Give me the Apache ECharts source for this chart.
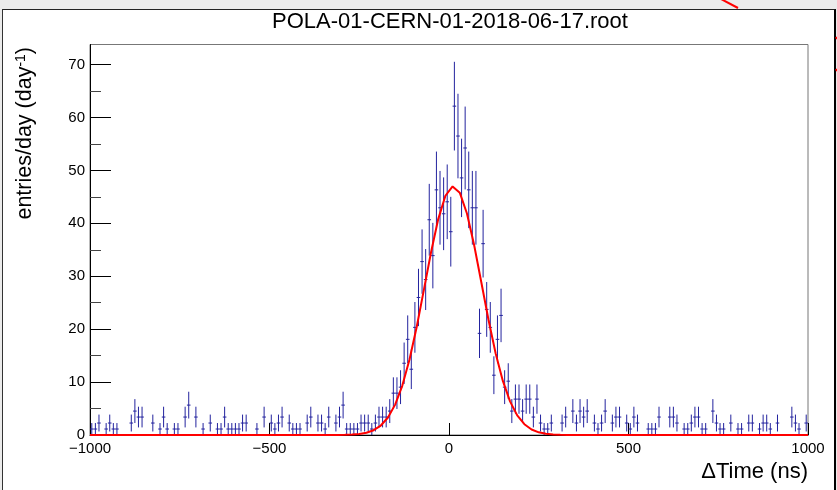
<!DOCTYPE html>
<html><head><meta charset="utf-8">
<script src="https://cdn.jsdelivr.net/npm/echarts@6/dist/echarts.min.js"></script>
<style>
html,body{margin:0;padding:0;background:#ebebeb;overflow:hidden;}
#pad{position:absolute;left:2px;top:9px;width:834px;height:490px;background:#fff;border-left:1px solid #333;border-top:1px solid #222;border-right:2px solid #000;box-sizing:border-box;}
#chart{position:absolute;left:0;top:0;width:837px;height:490px;}
</style></head><body>
<div id="pad"></div><div id="chart"></div>
<script>
// ---- text ----
const chartTitle = 'POLA-01-CERN-01-2018-06-17.root';
const xAxisTitle = '\u0394Time (ns)';
const yAxisTitle = 'entries/day (day';
const yAxisTitleSup = '-1';

// ---- histogram definition (200 bins of 10 ns from -1000 to 1000) ----
const xMin = -1000, xMax = 1000, binWidth = 10;
const entriesPerDay = [
  1.13,1.13,2.26,0,1.13,2.26,1.13,1.13,0,0,
  0,2.26,4.52,3.39,3.39,0,0,2.26,0,1.13,
  3.39,1.13,0,1.13,1.13,0,3.39,5.65,0,3.39,
  0,1.13,0,2.26,0,1.13,1.13,3.39,1.13,1.13,
  1.13,1.13,2.26,2.26,0,0,1.13,0,3.39,0,
  2.26,1.13,2.26,3.39,0,2.26,1.13,1.13,1.13,0,
  2.26,3.39,0,2.26,2.26,1.13,3.39,0,2.26,3.39,
  5.65,1.13,1.13,1.13,1.13,2.26,2.26,2.26,1.13,2.26,
  3.39,3.39,3.39,4.52,7.91,7.91,9.04,13.56,18.08,12.43,
  20.34,25.99,32.77,29.38,40.68,33.9,46.33,42.94,41.81,44.07,
  38.42,62.15,56.5,48.59,54.24,46.33,42.94,42.94,19.21,36.16,
  23.73,20.34,11.3,18.08,22.6,9.04,10.17,4.52,6.78,6.78,
  4.52,6.78,6.78,3.39,6.78,2.26,1.13,1.13,2.26,0,
  0,2.26,3.39,0,4.52,2.26,4.52,3.39,4.52,0,
  2.26,1.13,2.26,4.52,0,2.26,3.39,3.39,0,2.26,
  1.13,3.39,2.26,0,0,1.13,1.13,1.13,3.39,0,
  0,3.39,3.39,2.26,0,1.13,1.13,2.26,3.39,3.39,
  1.13,1.13,0,4.52,2.26,1.13,1.13,0,2.26,0,
  1.13,1.13,0,2.26,2.26,0,1.13,2.26,2.26,1.13,
  0,2.26,0,0,0,3.39,2.26,1.13,0,2.26
];
const entriesPerDayPerCount = 1.13; // one recorded count, in entries/day (Poisson errors)

// ---- Gaussian fit parameters ----
const fitConstant = 47, fitMean = 12, fitSigma = 79;
const fitSampleX = [-1000];
for (let x = -990; x <= 990; x += 20) fitSampleX.push(x);
fitSampleX.push(1000);

// ---- ticks ----
const yMax = 73.8;
const yMajorTicks = [0,10,20,30,40,50,60,70];
const yMinorTicks = [5,15,25,35,45,55,65];
const xMajorTicks = [-1000,-500,0,500,1000];

// ---- build series data ----
const histData = [];
entriesPerDay.forEach((v, i) => {
  if (v > 0) {
    const x = xMin + (i + 0.5) * binWidth;
    histData.push([x, v, Math.sqrt(v * entriesPerDayPerCount)]);
  }
});
const fitData = fitSampleX.map(x => [x, fitConstant * Math.exp(-0.5 * Math.pow((x - fitMean) / fitSigma, 2))]);

const FONT = 'Liberation Sans, Arial, Helvetica, sans-serif';
const barColor = '#23239e';

const chart = echarts.init(document.getElementById('chart'), null, {renderer: 'canvas'});
chart.setOption({
  backgroundColor: 'transparent',
  animation: false,
  grid: {left: 90, right: 29, top: 44.5, bottom: 55, show: true, borderColor: '#777', borderWidth: 1, backgroundColor: 'transparent'},
  xAxis: {
    type: 'value', min: xMin, max: xMax, interval: 500,
    axisLine: {show: true, onZero: false, lineStyle: {color: '#000', width: 1}},
    axisTick: {show: true, inside: true, length: 12, lineStyle: {color: '#000'}, customValues: xMajorTicks},
    axisLabel: {show: true, customValues: xMajorTicks, margin: 6, fontSize: 15, fontFamily: FONT, color: '#000',
      formatter: v => (v < 0 ? '\u2212' + Math.abs(v) : String(v))},
    splitLine: {show: false}
  },
  yAxis: [{
    type: 'value', min: 0, max: yMax, position: 'left',
    axisLine: {show: true, onZero: false, lineStyle: {color: '#000', width: 1}},
    axisTick: {show: true, inside: true, length: 21, lineStyle: {color: '#000'}, customValues: yMajorTicks},
    axisLabel: {show: true, customValues: yMajorTicks, margin: 5, fontSize: 15, fontFamily: FONT, color: '#000'},
    splitLine: {show: false}
  }, {
    type: 'value', min: 0, max: yMax, position: 'left',
    axisLine: {show: false, onZero: false},
    axisTick: {show: true, inside: true, length: 11, lineStyle: {color: '#444'}, customValues: yMinorTicks},
    axisLabel: {show: false},
    splitLine: {show: false}
  }],
  series: [{
    type: 'custom',
    data: histData,
    clip: true,
    z: 2,
    renderItem: function (params, api) {
      const x = api.value(0), y = api.value(1), e = api.value(2);
      const c = api.coord([x, y]);
      const t = api.coord([x, y + e]);
      const b = api.coord([x, Math.max(0, y - e)]);
      const l = api.coord([x - binWidth / 2, y]);
      const r = api.coord([x + binWidth / 2, y]);
      return {type: 'group', children: [
        {type: 'line', shape: {x1: c[0], y1: t[1], x2: c[0], y2: b[1]}, style: {stroke: barColor, lineWidth: 1}},
        {type: 'line', shape: {x1: l[0], y1: c[1], x2: r[0], y2: c[1]}, style: {stroke: barColor, lineWidth: 1}}
      ]};
    }
  }, {
    type: 'line',
    data: fitData,
    showSymbol: false,
    symbol: 'none',
    smooth: false,
    z: 3,
    lineStyle: {color: '#ff0000', width: 2}
  }],
  graphic: [
    {type: 'text', x: 450, y: 22, style: {text: chartTitle, fontSize: 22, fontFamily: FONT, fill: '#000', align: 'center', verticalAlign: 'middle'}},
    {type: 'text', x: 808, y: 472, style: {text: xAxisTitle, fontSize: 22, fontFamily: FONT, fill: '#000', align: 'right', verticalAlign: 'middle'}},
    {type: 'text', x: 25, y: 47, rotation: Math.PI / 2, style: {
      text: '{a|' + yAxisTitle + '}{s|' + yAxisTitleSup + '}{a|)}',
      rich: {
        a: {fontSize: 21.5, fontFamily: FONT, fill: '#000'},
        s: {fontSize: 14, fontFamily: FONT, fill: '#000', verticalAlign: 'top', padding: [0, 0, 8, 0]}
      },
      align: 'right', verticalAlign: 'middle'}},
    {type: 'line', shape: {x1: 721, y1: -1, x2: 738, y2: 8}, style: {stroke: '#ff0000', lineWidth: 2}},
    {type: 'line', shape: {x1: 836, y1: 37, x2: 837, y2: 39}, style: {stroke: '#ff0000', lineWidth: 2}},
    {type: 'line', shape: {x1: 836, y1: 69, x2: 837, y2: 71}, style: {stroke: '#ff0000', lineWidth: 2}}
  ]
});
</script>
</body></html>
